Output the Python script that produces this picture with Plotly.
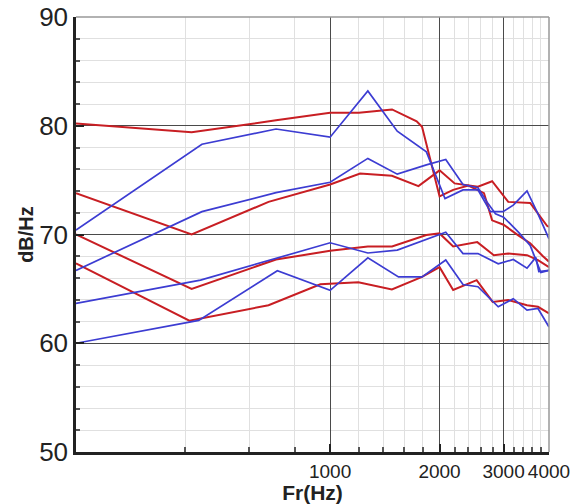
import numpy as np
import plotly.graph_objects as go

# ---- data (frequency in Hz, level in dB/Hz) ----
r1_f = [200, 416, 710, 1000, 1200, 1480, 1730, 1790, 2000, 2180, 2400, 2650, 2790, 3000, 3300, 3550, 3850, 4000]
r1_v = [80.2, 79.4, 80.5, 81.2, 81.2, 81.5, 80.4, 79.9, 73.5, 74.1, 74.5, 73.8, 71.3, 70.9, 69.9, 69.2, 68.0, 67.5]

r2_f = [200, 416, 677, 1000, 1209, 1479, 1750, 2000, 2200, 2550, 2790, 3090, 3550, 3950, 4000]
r2_v = [73.8, 70.0, 73.0, 74.6, 75.6, 75.4, 74.45, 75.9, 74.7, 74.4, 74.9, 73.0, 72.9, 70.8, 70.7]

r3_f = [200, 416, 710, 1000, 1270, 1480, 1840, 2000, 2180, 2540, 2820, 3090, 3480, 3730, 4000]
r3_v = [70.0, 65.0, 67.7, 68.5, 68.9, 68.9, 69.96, 70.1, 68.9, 69.3, 68.1, 68.25, 68.1, 67.65, 67.0]

r4_f = [200, 410, 677, 940, 1196, 1479, 1790, 2000, 2180, 2530, 2800, 3090, 3480, 3730, 4000]
r4_v = [67.35, 62.07, 63.5, 65.43, 65.6, 64.95, 66.1, 67.0, 64.9, 65.8, 63.8, 63.97, 63.5, 63.35, 62.74]

b1_f = [200, 444, 710, 1000, 1270, 1530, 1840, 2070, 2320, 2550, 2760, 2990, 3190, 3480, 3730, 4000]
b1_v = [70.4, 78.3, 79.7, 78.95, 83.2, 79.5, 77.6, 73.3, 74.1, 74.1, 72.1, 72.1, 72.7, 74.0, 71.9, 69.6]

b2_f = [200, 444, 710, 1000, 1270, 1530, 1840, 2080, 2320, 2550, 2700, 2850, 3000, 3300, 3550, 3800, 4000]
b2_v = [66.7, 72.1, 73.85, 74.8, 77.0, 75.55, 76.4, 76.9, 74.6, 74.3, 73.0, 71.9, 71.6, 70.2, 69.0, 66.5, 66.7]

b3_f = [200, 440, 1000, 1270, 1530, 1885, 2080, 2320, 2550, 2900, 3190, 3480, 3680, 3750, 4000]
b3_v = [63.66, 65.8, 69.24, 68.3, 68.57, 69.65, 70.2, 68.25, 68.25, 67.3, 67.7, 66.9, 67.9, 66.6, 66.7]

b4_f = [200, 435, 716, 1000, 1270, 1542, 1790, 2080, 2320, 2550, 2900, 3190, 3480, 3730, 4000]
b4_v = [60.0, 62.1, 66.67, 64.87, 67.86, 66.1, 66.1, 67.65, 65.4, 65.2, 63.35, 64.1, 63.05, 63.2, 61.5]

x_tickvals = [1000, 2000, 3000, 4000]
x_ticktext = ["1000", "2000", "3000", "4000"]
x_minor = [400, 600, 800, 1200, 1400, 1600, 1800, 2200, 2400, 2600, 2800,
           3200, 3400, 3600, 3800]
y_tickvals = [50, 60, 70, 80, 90]
y_minor = [v for v in range(52, 90, 2) if v % 10 != 0]

RED = "#c81e23"
BLUE = "#3c3cd2"

fig = go.Figure()
for f, v in [(r1_f, r1_v), (r2_f, r2_v), (r3_f, r3_v), (r4_f, r4_v)]:
    fig.add_trace(go.Scatter(x=f, y=v, mode="lines",
                             line=dict(color=RED, width=2), showlegend=False))
for f, v in [(b1_f, b1_v), (b2_f, b2_v), (b3_f, b3_v), (b4_f, b4_v)]:
    fig.add_trace(go.Scatter(x=f, y=v, mode="lines",
                             line=dict(color=BLUE, width=1.7), showlegend=False))

font_family = "Liberation Sans, Arial, sans-serif"

fig.update_layout(
    width=572, height=504,
    margin=dict(l=76, r=23, t=17, b=52),
    paper_bgcolor="white", plot_bgcolor="white",
    font=dict(family=font_family, color="#222"),
    showlegend=False,
    xaxis=dict(
        type="log",
        range=[np.log10(200), np.log10(4000)],
        automargin=False,
        tickmode="array", tickvals=x_tickvals, ticktext=x_ticktext,
        tickfont=dict(size=19, color="#222"),
        ticks="inside", ticklen=8, tickwidth=1.5, tickcolor="#222",
        showgrid=True, gridcolor="#4a4a4a", gridwidth=1,
        showline=True, linecolor="#222", linewidth=2.5,
        minor=dict(tickmode="array", tickvals=x_minor, ticks="inside",
                   ticklen=5, tickcolor="#555", showgrid=True,
                   gridcolor="#e0e0e0", gridwidth=1),
        title=dict(text="<b>Fr(Hz)</b>", font=dict(size=21, color="#222"),
                   standoff=4),
        zeroline=False,
    ),
    yaxis=dict(
        range=[50, 90],
        automargin=False,
        tickmode="array", tickvals=y_tickvals,
        tickfont=dict(size=26, color="#222"),
        ticks="inside", ticklen=8, tickwidth=1.5, tickcolor="#222",
        showgrid=True, gridcolor="#4a4a4a", gridwidth=1,
        showline=True, linecolor="#222", linewidth=2.5,
        minor=dict(tickmode="array", tickvals=y_minor, ticks="inside",
                   ticklen=4, tickcolor="#555", showgrid=True,
                   gridcolor="#e0e0e0", gridwidth=1),
        title=dict(text="<b>dB/Hz</b>", font=dict(size=20, color="#222"),
                   standoff=1),
        zeroline=False,
    ),
)

# thin grey frame on top and right
fig.add_shape(type="line", xref="paper", yref="paper", x0=0, x1=1, y0=1, y1=1,
              line=dict(color="#999", width=1.5))
fig.add_shape(type="line", xref="paper", yref="paper", x0=1, x1=1, y0=0, y1=1,
              line=dict(color="#999", width=1.5))

fig.write_html("out.html")
